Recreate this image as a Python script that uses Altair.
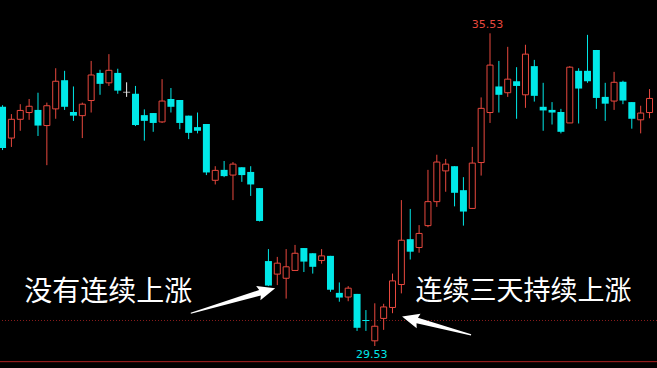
import altair as alt
import pandas as pd

# Daily OHLC prices, oldest first
opens = [34.12, 33.52, 33.88, 34.01, 34.06, 33.76, 34.08, 34.63, 34.02, 33.95,
         34.24, 34.77, 34.58, 34.77, 34.40, 34.37, 33.96, 34.00, 33.83, 34.27,
         34.25, 33.95, 33.73, 33.79, 32.71, 32.91, 32.81, 32.96, 32.87, 32.56,
         31.16, 30.91, 30.83, 30.98, 31.41, 31.31, 31.17, 31.26, 30.55, 30.47,
         30.53, 30.03, 29.63, 30.06, 30.27, 30.71, 31.58, 31.42, 31.84, 32.30,
         32.89, 32.98, 32.52, 32.17, 33.05, 34.01, 34.51, 34.39, 34.61, 34.35,
         34.90, 34.12, 34.06, 34.02, 33.81, 34.81, 34.81, 35.21, 34.31, 34.23,
         34.60, 34.21, 33.87, 34.01]
highs = [34.15, 33.98, 34.17, 34.27, 34.39, 34.20, 34.86, 34.81, 34.51, 34.20,
         35.00, 34.83, 35.13, 34.85, 34.59, 34.52, 34.07, 34.00, 34.65, 34.48,
         34.25, 33.95, 34.01, 33.79, 32.98, 33.08, 33.06, 32.96, 32.98, 32.56,
         31.39, 31.24, 31.39, 31.47, 31.41, 31.31, 31.39, 31.26, 30.75, 30.68,
         30.53, 30.22, 30.35, 30.34, 30.92, 32.33, 32.16, 31.85, 32.91, 33.20,
         33.12, 32.98, 32.77, 33.35, 34.30, 35.53, 35.00, 35.27, 34.88, 35.31,
         35.02, 34.58, 34.21, 34.08, 34.90, 34.86, 35.50, 35.21, 34.58, 34.79,
         34.62, 34.21, 34.14, 34.46]
lows = [33.29, 33.35, 33.66, 33.87, 33.56, 33.00, 33.89, 34.06, 33.85, 33.52,
        34.01, 34.35, 34.52, 34.37, 34.31, 33.75, 33.47, 33.64, 33.81, 34.01,
        33.69, 33.50, 33.61, 32.81, 32.63, 32.77, 32.33, 32.68, 32.41, 31.92,
        30.68, 30.70, 30.44, 30.97, 30.95, 30.92, 31.11, 30.57, 30.38, 30.39,
        29.82, 29.82, 29.53, 29.84, 30.16, 30.54, 31.19, 31.32, 31.81, 32.20,
        32.49, 32.21, 31.84, 32.17, 32.80, 33.81, 34.01, 34.31, 33.89, 34.10,
        34.22, 33.66, 33.78, 33.61, 33.81, 33.80, 34.58, 34.08, 33.85, 34.06,
        34.17, 33.70, 33.61, 33.90]
closes = [33.33, 33.88, 34.05, 34.13, 33.76, 34.14, 34.61, 34.12, 33.95, 34.17,
          34.73, 34.56, 34.82, 34.43, 34.40, 33.77, 33.85, 33.81, 34.23, 34.12,
          33.81, 33.62, 33.66, 32.86, 32.90, 32.79, 33.02, 32.81, 32.63, 31.93,
          30.69, 31.12, 31.05, 31.31, 31.15, 31.05, 31.26, 30.61, 30.46, 30.64,
          29.88, 30.01, 29.91, 30.28, 30.78, 31.56, 31.34, 31.69, 32.30, 33.06,
          33.02, 32.47, 32.11, 33.04, 34.09, 34.92, 34.35, 34.65, 34.52, 35.13,
          34.33, 34.05, 34.01, 33.64, 34.88, 34.47, 34.61, 34.29, 34.18, 34.59,
          34.24, 33.89, 34.00, 34.28]

# Reference price lines
dotted_level = 30.02
frame_level = 29.23

# Annotations
note_texts = ["没有连续上涨", "连续三天持续上涨"]
note_size = [28, 27]
note_x = [2.45, 46.6]
note_y = [30.55, 30.567]
arrow_x = [26.0, 48.97]
arrow_y = [30.40, 29.92]

UP = "#e8483e"
DOWN = "#00e8e8"
FLAT = "#f0f0f0"

df = pd.DataFrame({"i": list(range(len(opens))), "open": opens, "high": highs,
                   "low": lows, "close": closes})
df["dir"] = ["up" if c > o else ("down" if c < o else "flat")
             for o, c in zip(opens, closes)]

W, H = 657, 368
xs = alt.Scale(domain=[2.5 / 9, 659.5 / 9], nice=False, zero=False)
ys = alt.Scale(domain=[29.1085, 36.1689], nice=False, zero=False)
X = alt.X("i:Q", scale=xs, axis=None)

base = alt.Chart(df)

wick = base.mark_rule(strokeWidth=1).encode(
    x=X,
    y=alt.Y("low:Q", scale=ys, axis=None),
    y2="high:Q",
    color=alt.Color("dir:N", scale=alt.Scale(domain=["up", "down", "flat"],
                                             range=[UP, DOWN, FLAT]), legend=None),
)

body_up = base.transform_filter(alt.datum.dir == "up").mark_bar(
    size=6, fill="black", stroke=UP, strokeWidth=1
).encode(x=X, y=alt.Y("open:Q", scale=ys, axis=None), y2="close:Q")

body_down = base.transform_filter(alt.datum.dir == "down").mark_bar(
    size=7, color=DOWN
).encode(x=X, y=alt.Y("open:Q", scale=ys, axis=None), y2="close:Q")

body_flat = base.transform_filter(alt.datum.dir == "flat").mark_tick(
    orient="horizontal", size=7, thickness=1, color=FLAT
).encode(x=X, y=alt.Y("open:Q", scale=ys, axis=None))

dotted = alt.Chart(pd.DataFrame({"p": [dotted_level]})).mark_rule(
    color="#8a1c1c", strokeWidth=1, strokeDash=[1, 2]
).encode(y=alt.Y("p:Q", scale=ys, axis=None))

frame = alt.Chart(pd.DataFrame({"p": [frame_level]})).mark_rule(
    color="#b02222", strokeWidth=1
).encode(y=alt.Y("p:Q", scale=ys, axis=None))

# Highest high and lowest low labels
hi = df.loc[df["high"].idxmax()]
lo = df.loc[df["low"].idxmin()]
ext = pd.DataFrame({
    "i": [hi["i"], lo["i"]],
    "p": [hi["high"], lo["low"]],
    "label": [f"{hi['high']:.2f}", f"{lo['low']:.2f}"],
})
hi_label = alt.Chart(ext.iloc[[0]]).mark_text(
    font="DejaVu Sans", fontSize=11, color=UP, dx=-2.5, dy=-8.5, baseline="middle"
).encode(x=alt.X("i:Q", scale=xs, axis=None), y=alt.Y("p:Q", scale=ys, axis=None),
         text="label:N")
lo_label = alt.Chart(ext.iloc[[1]]).mark_text(
    font="DejaVu Sans", fontSize=11, color=DOWN, dx=-3, dy=8.5, baseline="middle"
).encode(x=alt.X("i:Q", scale=xs, axis=None), y=alt.Y("p:Q", scale=ys, axis=None),
         text="label:N")

notes = alt.Chart(pd.DataFrame({"x": note_x, "y": note_y, "t": note_texts,
                                "s": note_size})).mark_text(
    font="Noto Sans CJK SC", color="white", align="left", baseline="middle"
).encode(x=alt.X("x:Q", scale=xs, axis=None), y=alt.Y("y:Q", scale=ys, axis=None),
         text="t:N", size=alt.Size("s:Q", scale=None, legend=None))

# Tapered arrows pointing at the rebounds
left_path = "M -1 -0.012 L 0.64 -0.065 L 0.6 -0.17 L 1 0 L 0.6 0.17 L 0.64 0.065 L -1 0.012 Z"
right_path = "M -1 -0.016 L 0.56 -0.08 L 0.52 -0.21 L 1 0 L 0.52 0.21 L 0.56 0.08 L -1 0.016 Z"
arrow_l = alt.Chart(pd.DataFrame({"x": [arrow_x[0]], "y": [arrow_y[0]]})).mark_point(
    shape=left_path, size=88 * 88, angle=343.5, filled=True, fill="white",
    opacity=1, strokeWidth=0
).encode(x=alt.X("x:Q", scale=xs, axis=None), y=alt.Y("y:Q", scale=ys, axis=None))
arrow_r = alt.Chart(pd.DataFrame({"x": [arrow_x[1]], "y": [arrow_y[1]]})).mark_point(
    shape=right_path, size=71.4 * 71.4, angle=194.85, filled=True, fill="white",
    opacity=1, strokeWidth=0
).encode(x=alt.X("x:Q", scale=xs, axis=None), y=alt.Y("y:Q", scale=ys, axis=None))

chart = alt.layer(
    dotted, frame, wick, body_up, body_down, body_flat,
    hi_label, lo_label, notes, arrow_l, arrow_r
).properties(
    width=W, height=H, background="black", padding=0, autosize="none"
).configure_view(stroke=None)

chart.save("out.html", embed_options={"renderer": "svg", "actions": False})
